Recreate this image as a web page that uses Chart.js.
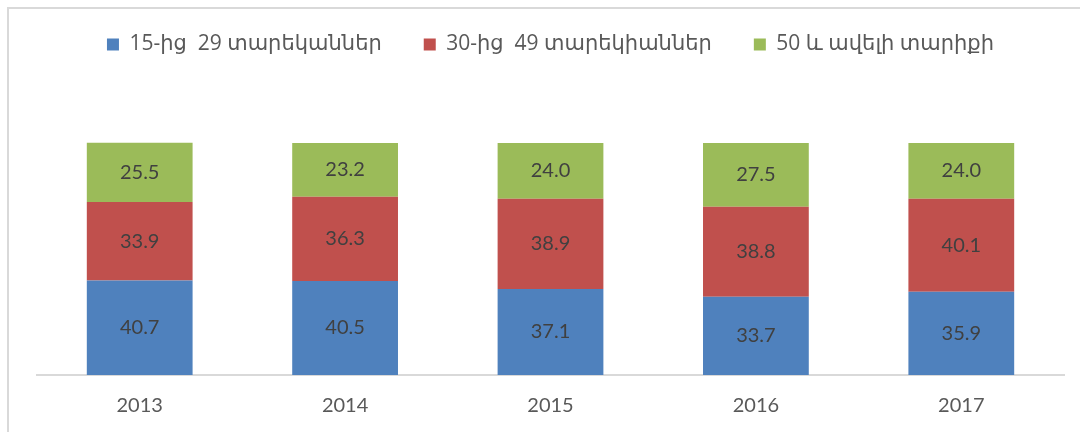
<!DOCTYPE html>
<html>
<head>
<meta charset="utf-8">
<script src="https://cdn.jsdelivr.net/npm/chart.js@4.4.1/dist/chart.umd.min.js"></script>
<style>
  html, body { margin: 0; padding: 0; background: #fff; overflow: hidden; }
  #frame { position: absolute; left: 7px; top: 7px; width: 1100px; height: 460px;
           border-left: 2px solid #d9d9d9; border-top: 2px solid #d9d9d9; }
  #wrap { position: absolute; left: 0; top: 0; width: 1080px; height: 432px; }
</style>
</head>
<body>
<div id="frame"></div>
<div id="wrap"><canvas id="chart" width="1080" height="432"></canvas></div>
<script>
const years = ['2013', '2014', '2015', '2016', '2017'];
const seriesNames = ['15-ից  29 տարեկաններ', '30-ից  49 տարեկիաններ', '50 և ավելի տարիքի'];
const young = [40.7, 40.5, 37.1, 33.7, 35.9];
const middle = [33.9, 36.3, 38.9, 38.8, 40.1];
const older = [25.5, 23.2, 24.0, 27.5, 24.0];
const colors = ['#4f81bd', '#c0504d', '#9bbb59'];

// value labels in the middle of each bar segment
const barLabels = {
  id: 'barLabels',
  afterDatasetsDraw(chart) {
    const ctx = chart.ctx;
    ctx.save();
    ctx.font = '20px Lato, "Open Sans", sans-serif';
    ctx.fillStyle = '#404040';
    ctx.textAlign = 'center';
    ctx.textBaseline = 'middle';
    chart.data.datasets.forEach((ds, i) => {
      chart.getDatasetMeta(i).data.forEach((bar, j) => {
        const mid = (bar.y + bar.base) / 2;
        ctx.fillText(ds.data[j].toFixed(1), bar.x, mid);
      });
    });
    ctx.restore();
  }
};

// make the legend block taller so the plot starts lower
const legendHeight = {
  id: 'legendHeight',
  beforeInit(chart) {
    const fit = chart.legend.fit;
    chart.legend.fit = function () {
      fit.bind(chart.legend)();
      this.height = 151;
    };
  }
};

new Chart(document.getElementById('chart'), {
  type: 'bar',
  data: {
    labels: years,
    datasets: [
      { label: seriesNames[0], data: young, backgroundColor: colors[0] },
      { label: seriesNames[1], data: middle, backgroundColor: colors[1] },
      { label: seriesNames[2], data: older, backgroundColor: colors[2] }
    ]
  },
  options: {
    responsive: false,
    animation: false,
    layout: { padding: { left: 37, right: 16, top: -8, bottom: 3 } },
    datasets: { bar: { barPercentage: 1, categoryPercentage: 0.515, clip: false } },
    plugins: {
      legend: {
        position: 'top',
        labels: {
          boxWidth: 12,
          boxHeight: 12,
          padding: 42,
          color: '#595959',
          font: { family: '"Open Sans", "DejaVu Sans", sans-serif', size: 21 }
        }
      },
      tooltip: { enabled: false }
    },
    scales: {
      x: {
        stacked: true,
        grid: { display: false },
        border: { display: true, color: '#d9d9d9', width: 2 },
        ticks: { color: '#595959', padding: 11, font: { family: 'Lato, sans-serif', size: 20 } }
      },
      y: {
        stacked: true,
        display: false,
        min: 0,
        max: 100
      }
    }
  },
  plugins: [barLabels, legendHeight]
});
</script>
</body>
</html>
